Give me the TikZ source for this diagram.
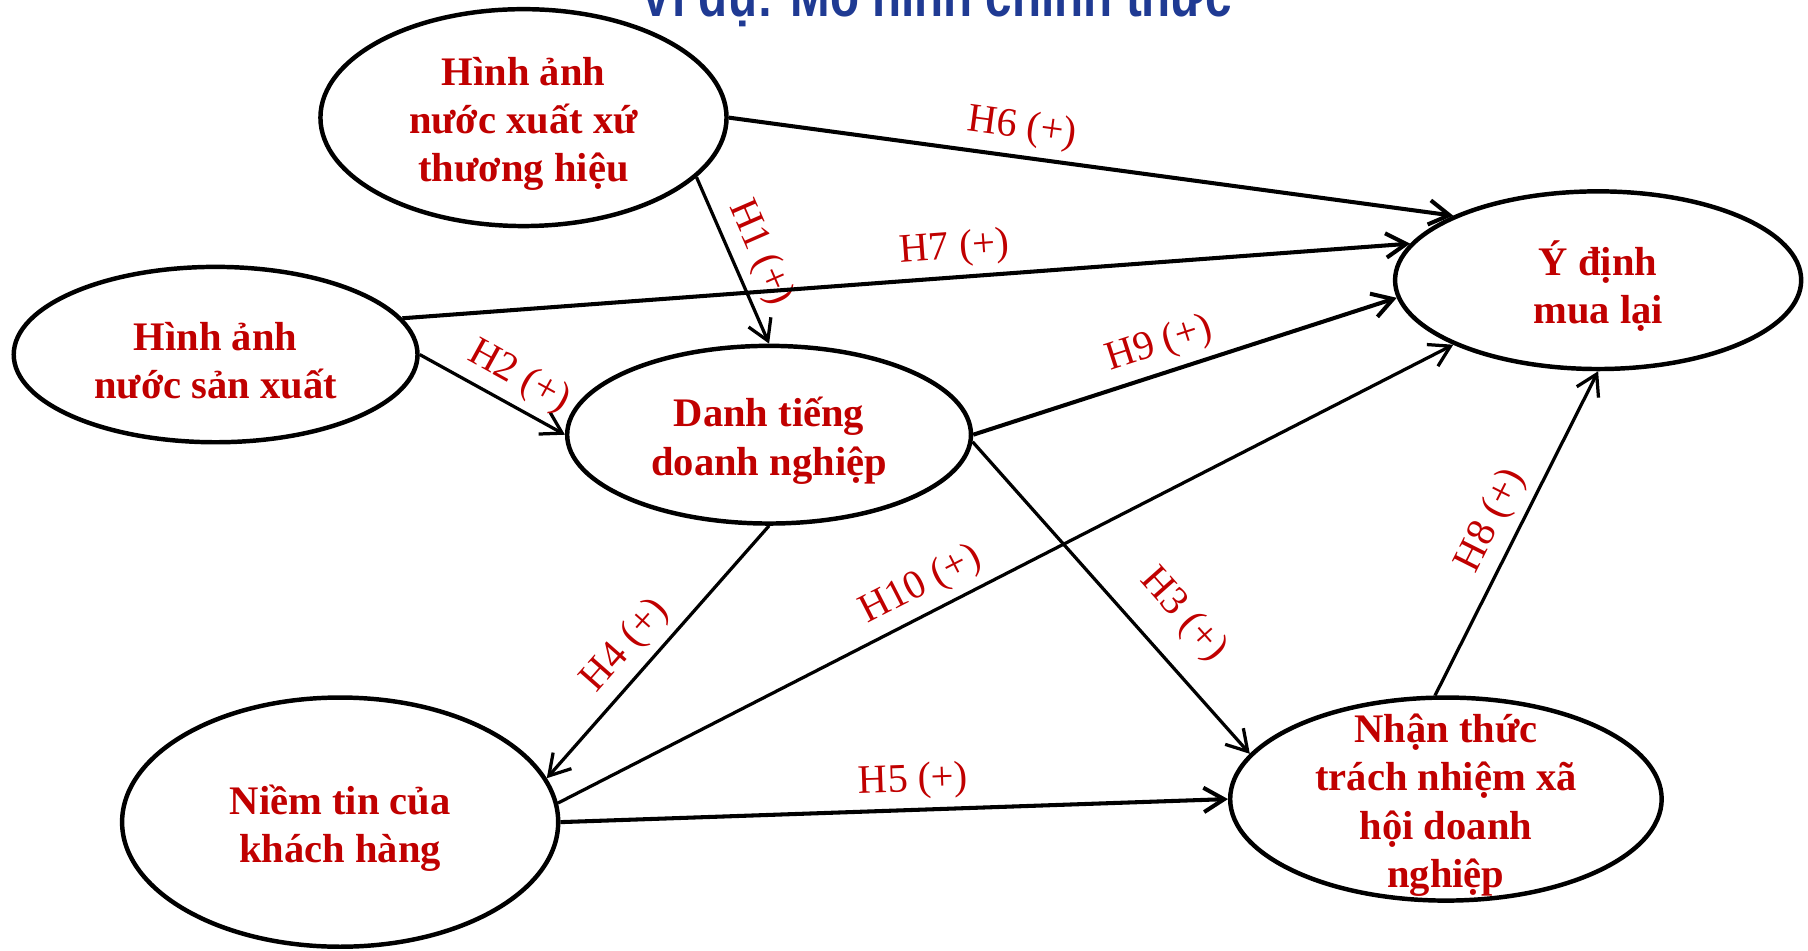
\documentclass[tikz,border=0pt]{standalone}
\usepackage{fontspec}
\setmainfont{Liberation Serif}
\newfontfamily\titlefont[FakeStretch=0.82]{Liberation Sans}
\usetikzlibrary{shapes.geometric,arrows.meta}
\definecolor{labelred}{RGB}{192,0,0}
\definecolor{titleblue}{RGB}{31,58,147}
\begin{document}
\begin{tikzpicture}[x=0.01cm, y=-0.01cm, >={Straight Barb[length=5pt,width=6pt]},
  construct/.style={shape=ellipse, draw=black, line width=1.1pt, inner sep=0pt},
  constructtext/.style={text=labelred, font=\bfseries\fontsize{10}{11.9}\selectfont, align=center, yshift=-1.5pt},
  hyp/.style={font=\fontsize{10}{12}\selectfont, text=labelred, sloped, above, inner sep=2pt}]
\useasboundingbox (0,0) rectangle (1568,824);
\node[text=titleblue, font=\titlefont\bfseries\fontsize{14.3}{16}\selectfont, anchor=base] (title) at (812,13.9) {Ví dụ: Mô hình chính thức};
% constructs
\node[construct, minimum width=3.52cm, minimum height=1.88cm, label={[constructtext]center:{Hình ảnh\\nước xuất xứ\\thương hiệu}}] (origin) at (454,102) {};
\node[construct, minimum width=3.5cm, minimum height=1.52cm, label={[constructtext]center:{Hình ảnh\\nước sản xuất}}] (country) at (187,307.5) {};
\node[construct, minimum width=3.5cm, minimum height=1.54cm, label={[constructtext]center:{Danh tiếng\\doanh nghiệp}}] (reputation) at (667,377) {};
\node[construct, minimum width=3.52cm, minimum height=1.54cm, label={[constructtext]center:{Ý định\\mua lại}}] (intent) at (1386,243) {};
\node[construct, minimum width=3.78cm, minimum height=2.16cm, label={[constructtext]center:{Niềm tin của\\khách hàng}}] (trust) at (295,713) {};
\node[construct, minimum width=3.74cm, minimum height=1.76cm, label={[constructtext]center:{Nhận thức\\trách nhiệm xã\\hội doanh\\nghiệp}}] (csr) at (1254,693) {};
% hypotheses
\path [->, line width=1pt] (origin.east) edge node[hyp, pos=0.40] (h6) {H6 (+)} (intent.156);
\path [->, thick] (origin.-19) edge node[hyp, pos=0.52] (h1) {H1 (+)} (reputation.north);
\path [->, line width=1pt] (country.11) edge node[hyp, pos=0.55] (h7) {H7 (+)} (intent.169);
\path [->, thick] (country.east) edge node[hyp, pos=0.59] (h2) {H2 (+)} (reputation.west);
\path [->, line width=1pt] (reputation.east) edge node[hyp, pos=0.46] (h9) {H9 (+)} (intent.-175);
\path [->, thick] (reputation.-2) edge node[hyp, pos=0.645, above=3.5pt] (h3) {H3 (+)} (csr.167);
\path [->, thick] (reputation.south) edge node[hyp, pos=0.55] (h4) {H4 (+)} (trust.12);
\path [->, thick] (trust.5) edge node[hyp, pos=0.42] (h10) {H10 (+)} (intent.-156);
\path [->, line width=1pt] (trust.east) edge node[hyp, pos=0.53] (h5) {H5 (+)} (csr.west);
\path [->, thick] (csr.96) edge node[hyp, pos=0.50] (h8) {H8 (+)} (intent.south);
\end{tikzpicture}
\end{document}
